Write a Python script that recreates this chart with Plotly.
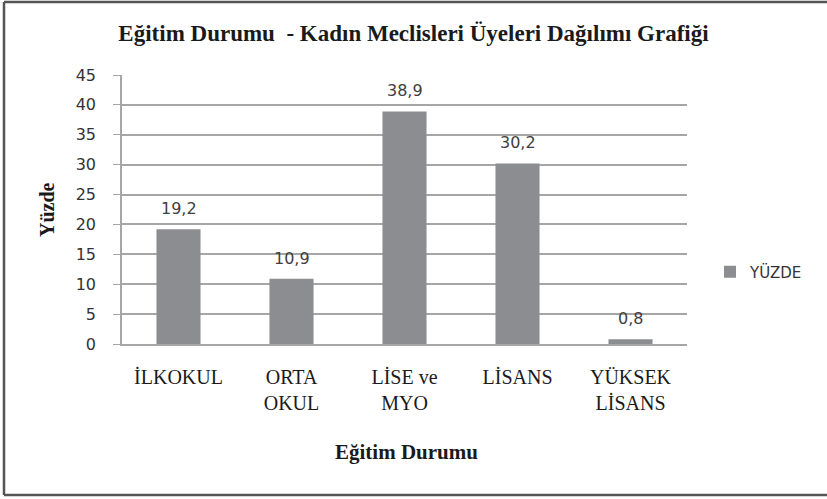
import plotly.graph_objects as go

categories = ["İLKOKUL", "ORTA<br>OKUL", "LİSE ve<br>MYO", "LİSANS", "YÜKSEK<br>LİSANS"]
values = [19.2, 10.9, 38.9, 30.2, 0.8]
series_name = "YÜZDE"
y_ticks = [0, 5, 10, 15, 20, 25, 30, 35, 40, 45]

W, H = 827, 499
ml, mr, mt, mb = 122, 140, 75, 155
pw, ph = W - ml - mr, H - mt - mb

bar_color = "#8c8d91"
grid_color = "#a6a6a6"
serif = "Liberation Serif, Times New Roman, serif"
sans = "DejaVu Sans, Verdana, sans-serif"

fig = go.Figure()
fig.add_trace(go.Bar(
    x=categories, y=values, name=series_name,
    marker=dict(color=bar_color, line=dict(width=0)),
    showlegend=True,
))

for c, v in zip(categories, values):
    fig.add_annotation(x=c, y=v, text=f"{v:.1f}".replace(".", ","),
                       showarrow=False, yanchor="bottom", yshift=9,
                       font=dict(family=sans, size=16, color="#404040"))

def px_x(p):
    return (p - ml) / pw

def px_y(p):
    return (H - mb - p) / ph

# axis titles
fig.add_annotation(xref="paper", yref="paper", x=px_x(47), y=px_y(210),
                   xanchor="center", yanchor="middle",
                   text="<b>Yüzde</b>", textangle=-90, showarrow=False,
                   font=dict(family=serif, size=20, color="#1a1a1a"))
fig.add_annotation(xref="paper", yref="paper", x=px_x(406), y=px_y(452),
                   xanchor="center", yanchor="middle",
                   text="<b>Eğitim Durumu</b>", showarrow=False,
                   font=dict(family=serif, size=21, color="#1a1a1a"))

# outer frame (left, top, bottom edges; right edge lies beyond the image)
frame = dict(color="#555555", width=2.5)
fig.add_shape(type="line", xref="paper", yref="paper",
              x0=px_x(4), x1=px_x(4), y0=px_y(495), y1=px_y(2), line=frame)
fig.add_shape(type="line", xref="paper", yref="paper",
              x0=px_x(4), x1=px_x(827), y0=px_y(2), y1=px_y(2), line=frame)
fig.add_shape(type="line", xref="paper", yref="paper",
              x0=px_x(4), x1=px_x(827), y0=px_y(495), y1=px_y(495), line=frame)

fig.update_layout(
    width=W, height=H,
    margin=dict(l=ml, r=mr, t=mt, b=mb),
    paper_bgcolor="white", plot_bgcolor="white",
    bargap=0.61,
    separators=",.",
    title=dict(text="<b>Eğitim Durumu  - Kadın Meclisleri Üyeleri Dağılımı Grafiği</b>",
               x=0.5, xanchor="center", y=1 - 33 / H, yanchor="middle",
               font=dict(family=serif, size=23, color="#1a1a1a")),
    xaxis=dict(showgrid=False, showline=True, linecolor=grid_color, linewidth=1.5,
               ticks="", tickfont=dict(family=serif, size=20, color="#1a1a1a"),
               ticklabelstandoff=14),
    yaxis=dict(range=[0, 45], tickvals=y_ticks, showgrid=True, gridcolor=grid_color,
               gridwidth=1.5, showline=True, linecolor=grid_color, linewidth=1.5,
               ticks="outside", ticklen=7, tickcolor=grid_color, zeroline=False,
               tickfont=dict(family=sans, size=16, color="#333333"),
               ticklabelstandoff=14),
    legend=dict(x=px_x(710), xanchor="left", y=px_y(272), yanchor="middle",
                font=dict(family=sans, size=15, color="#333333"),
                itemwidth=30, bgcolor="rgba(0,0,0,0)"),
)

fig.write_html("out.html", config={"displayModeBar": False},
               post_script="document.body.style.margin='0';document.body.style.overflow='hidden';")
